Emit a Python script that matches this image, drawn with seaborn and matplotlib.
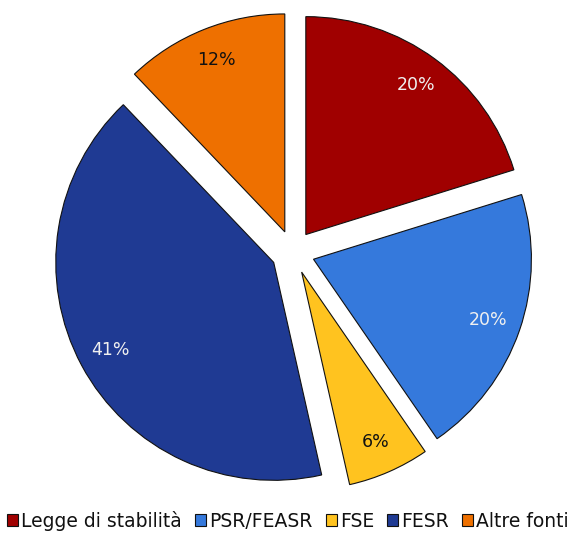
import matplotlib
matplotlib.use("Agg")
import matplotlib.pyplot as plt
import seaborn as sns
from matplotlib.patches import Patch

labels = ["Legge di stabilità", "PSR/FEASR", "FSE", "FESR", "Altre fonti"]
values = [20, 20, 6, 41, 12]
colors = ["#A00000", "#3579DC", "#FFC31F", "#1F3A93", "#EE7000"]
text_colors = ["#F0F0F0", "#F0F0F0", "#111111", "#F0F0F0", "#111111"]

sns.set_theme(style="white")
plt.rcParams["font.family"] = ["DejaVu Sans"]
plt.rcParams["text.color"] = "#111111"

fig = plt.figure(figsize=(5.69, 5.33), dpi=100)
ax = fig.add_axes([31.4 / 569, 19.4 / 533, 523 / 569, 523 / 533])

wedges, texts, autotexts = ax.pie(
    values,
    colors=colors,
    startangle=90,
    counterclock=False,
    explode=[0.1] * len(values),
    autopct="%.0f%%",
    pctdistance=0.85,
    wedgeprops={"edgecolor": "#111111", "linewidth": 0.8},
    textprops={"fontsize": 12.5},
)
for t, c in zip(autotexts, text_colors):
    t.set_color(c)

ax.set_xlim(-1.2, 1.2)
ax.set_ylim(-1.2, 1.2)
ax.set_aspect("equal")

handles = [Patch(facecolor=c, edgecolor="#111111", linewidth=0.8) for c in colors]
fig.legend(
    handles, labels,
    loc="lower center", bbox_to_anchor=(0.506, 0.004),
    ncol=5, frameon=False, fontsize=13.5,
    borderpad=0, borderaxespad=0,
    handlelength=0.6, handleheight=0.6, handletextpad=0.15,
    columnspacing=0.7,
)

fig.savefig("out.png", dpi=100)
